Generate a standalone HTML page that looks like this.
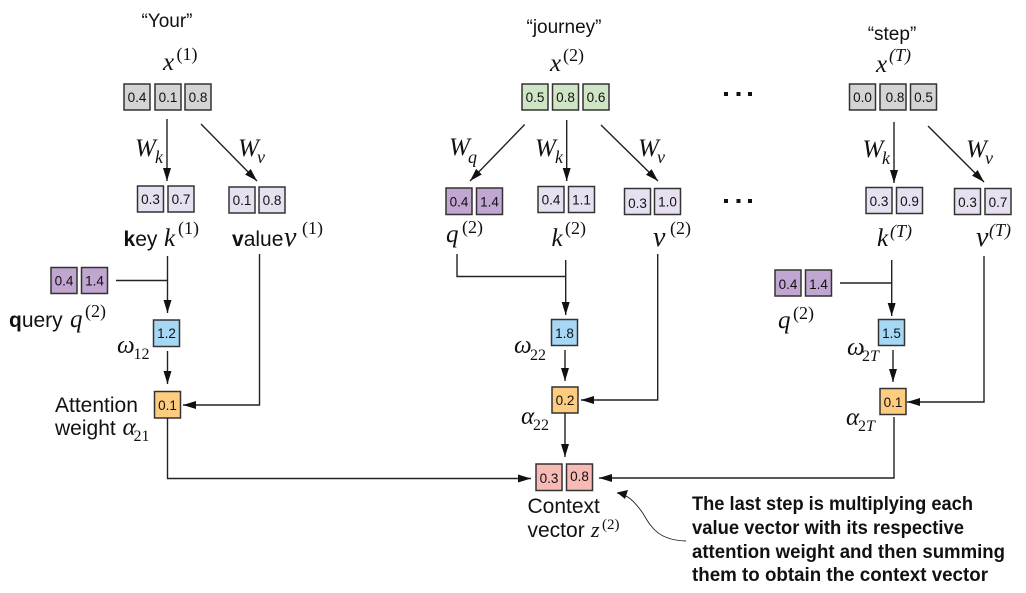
<!DOCTYPE html>
<html><head><meta charset="utf-8"><style>
html,body{margin:0;padding:0;background:#fff}
svg{display:block}
.n{font:13.5px "Liberation Sans",sans-serif;fill:#111;text-anchor:middle}
.s{font:21px "Liberation Sans",sans-serif;fill:#111}
.w{font:19px "Liberation Sans",sans-serif;fill:#111;text-anchor:middle}
.m{font:italic 25px "Liberation Serif",serif;fill:#111}
.u{font:18px "Liberation Serif",serif;fill:#111}
.sb{font:16px "Liberation Serif",serif;fill:#111}
.ui{font:italic 18px "Liberation Serif",serif;fill:#111}
.c{font:bold 19px "Liberation Sans",sans-serif;fill:#111}
rect{stroke:#333;stroke-width:1.5}
.g{fill:#d4d4d4}.gr{fill:#cfe5c5}.l{fill:#e6e0f0}.p{fill:#c0a6d0}.b{fill:#a6d8f5}.o{fill:#fdcc7e}.r{fill:#f8bab5}
line,polyline,path.a{stroke:#222;stroke-width:1.4;fill:none}
.d{fill:#111;stroke:none}
</style></head><body>
<svg width="1026" height="593" viewBox="0 0 1026 593" xmlns="http://www.w3.org/2000/svg">
<defs><marker id="h" markerUnits="userSpaceOnUse" markerWidth="14" markerHeight="10" refX="13" refY="4" orient="auto"><path d="M0 0L13 4L0 8Z" fill="#111"/></marker></defs>

<!-- column 1 -->
<text class="w" x="167" y="27">“Your”</text>
<text class="m" x="163" y="70">x</text><text class="u" x="176.5" y="60">(1)</text>
<rect class="g" x="124" y="84" width="26" height="26"/><text class="n" x="137" y="102">0.4</text>
<rect class="g" x="155" y="84" width="26" height="26"/><text class="n" x="168" y="102">0.1</text>
<rect class="g" x="185" y="84" width="26" height="26"/><text class="n" x="198" y="102">0.8</text>
<line x1="167" y1="119" x2="167" y2="181" marker-end="url(#h)"/>
<line x1="201" y1="124" x2="257" y2="181" marker-end="url(#h)"/>
<text class="m" x="135" y="156">W</text><text class="ui" x="155" y="163">k</text>
<text class="m" x="238" y="156">W</text><text class="ui" x="257" y="163">v</text>
<rect class="l" x="137.5" y="186" width="26" height="26"/><text class="n" x="150.5" y="204">0.3</text>
<rect class="l" x="168" y="186" width="26" height="26"/><text class="n" x="181" y="204">0.7</text>
<rect class="l" x="229" y="187" width="26" height="26"/><text class="n" x="242" y="205">0.1</text>
<rect class="l" x="259" y="187" width="26" height="26"/><text class="n" x="272" y="205">0.8</text>
<text class="s" x="123.5" y="246"><tspan font-weight="bold">k</tspan>ey</text><text class="m" x="164" y="246">k</text><text class="u" x="178" y="234">(1)</text>
<text class="s" x="232" y="246"><tspan font-weight="bold">v</tspan>alue</text><text class="m" x="284" y="246" style="font-size:28px">v</text><text class="u" x="302" y="234">(1)</text>
<rect class="p" x="51" y="267.5" width="26" height="26"/><text class="n" x="64" y="285.5">0.4</text>
<rect class="p" x="81.5" y="267.5" width="26" height="26"/><text class="n" x="94.5" y="285.5">1.4</text>
<line x1="116" y1="280.5" x2="167.5" y2="280.5"/>
<line x1="167.5" y1="256" x2="167.5" y2="313" marker-end="url(#h)"/>
<text class="s" x="9" y="327"><tspan font-weight="bold">q</tspan>uery</text><text class="m" x="70" y="327">q</text><text class="u" x="85" y="317">(2)</text>
<rect class="b" x="153.5" y="320" width="26" height="26.5"/><text class="n" x="166.5" y="338">1.2</text>
<text class="m" x="117" y="353">ω</text><text class="sb" x="133.5" y="359">12</text>
<line x1="167.5" y1="351" x2="167.5" y2="384" marker-end="url(#h)"/>
<rect class="o" x="154.5" y="391.5" width="26" height="26.5"/><text class="n" x="167.5" y="410">0.1</text>
<text class="s" x="55" y="412">Attention</text>
<text class="s" x="55" y="435">weight</text><text class="m" x="122.5" y="435">α</text><text class="sb" x="133.5" y="441">21</text>
<polyline points="259.5,254 259.5,405 183,405" marker-end="url(#h)"/>
<polyline points="167.5,418 167.5,478.5 531,478.5" marker-end="url(#h)"/>

<!-- column 2 -->
<text class="w" x="564" y="33">“journey”</text>
<text class="m" x="550" y="71">x</text><text class="u" x="563" y="61">(2)</text>
<rect class="gr" x="522" y="84" width="26" height="26"/><text class="n" x="535" y="102">0.5</text>
<rect class="gr" x="552.5" y="84" width="26" height="26"/><text class="n" x="565.5" y="102">0.8</text>
<rect class="gr" x="583" y="84" width="26" height="26"/><text class="n" x="596" y="102">0.6</text>
<line x1="524.7" y1="124.5" x2="470" y2="181" marker-end="url(#h)"/>
<line x1="566.7" y1="120" x2="566.7" y2="181" marker-end="url(#h)"/>
<line x1="601" y1="125" x2="658" y2="181" marker-end="url(#h)"/>
<text class="m" x="449" y="155">W</text><text class="ui" x="468" y="163">q</text>
<text class="m" x="535" y="156">W</text><text class="ui" x="555" y="163">k</text>
<text class="m" x="638" y="156">W</text><text class="ui" x="657" y="163">v</text>
<rect class="p" x="446" y="188" width="26" height="26.5"/><text class="n" x="459" y="206.5">0.4</text>
<rect class="p" x="476.5" y="188" width="26" height="26.5"/><text class="n" x="489.5" y="206.5">1.4</text>
<rect class="l" x="538" y="186.5" width="26" height="26"/><text class="n" x="551" y="204.5">0.4</text>
<rect class="l" x="568.5" y="186.5" width="26" height="26"/><text class="n" x="581.5" y="204.5">1.1</text>
<rect class="l" x="624.5" y="188.5" width="26" height="26"/><text class="n" x="637.5" y="208">0.3</text>
<rect class="l" x="654.5" y="188.5" width="26" height="26"/><text class="n" x="667.5" y="206.5">1.0</text>
<text class="m" x="446" y="242">q</text><text class="u" x="462" y="233">(2)</text>
<text class="m" x="551.5" y="246">k</text><text class="u" x="565" y="234">(2)</text>
<text class="m" x="653" y="246" style="font-size:28px">v</text><text class="u" x="670" y="234">(2)</text>
<polyline points="457,254 457,276.5 566,276.5"/>
<line x1="565.7" y1="260" x2="565.7" y2="315" marker-end="url(#h)"/>
<polyline points="657.7,254 657.7,400 581,400" marker-end="url(#h)"/>
<rect class="b" x="551.5" y="319.5" width="26" height="26"/><text class="n" x="564.5" y="338">1.8</text>
<text class="m" x="514" y="353">ω</text><text class="sb" x="530" y="360">22</text>
<line x1="565" y1="350" x2="565" y2="381" marker-end="url(#h)"/>
<rect class="o" x="552" y="387" width="26" height="26"/><text class="n" x="565" y="405">0.2</text>
<text class="m" x="521" y="424">α</text><text class="sb" x="533" y="430">22</text>
<line x1="565" y1="413" x2="565" y2="457" marker-end="url(#h)"/>
<rect class="r" x="536" y="464" width="26" height="26.5"/><text class="n" x="549" y="483">0.3</text>
<rect class="r" x="566.5" y="464" width="26" height="26.5"/><text class="n" x="579.5" y="481">0.8</text>
<text class="s" x="527.5" y="513">Context</text>
<text class="s" x="527.5" y="537">vector</text><text class="m" x="591" y="537" style="font-size:22px">z</text><text class="u" x="602" y="529" style="font-size:15px">(2)</text>

<!-- dots -->
<rect class="d" x="724" y="92" width="4" height="4"/><rect class="d" x="736.5" y="92" width="4" height="4"/><rect class="d" x="748" y="92" width="4" height="4"/>
<rect class="d" x="724" y="199" width="4" height="4"/><rect class="d" x="736.5" y="199" width="4" height="4"/><rect class="d" x="748" y="199" width="4" height="4"/>

<!-- column 3 -->
<text class="w" x="892" y="40">“step”</text>
<text class="m" x="876" y="72">x</text><text class="ui" x="889" y="61">(T)</text>
<rect class="g" x="849.5" y="84" width="26" height="26"/><text class="n" x="862.5" y="102">0.0</text>
<rect class="g" x="880" y="84" width="26" height="26"/><text class="n" x="895" y="102">0.8</text>
<rect class="g" x="910.5" y="84" width="26" height="26"/><text class="n" x="923.5" y="102">0.5</text>
<line x1="894" y1="122" x2="894" y2="183" marker-end="url(#h)"/>
<line x1="928" y1="126" x2="984" y2="182" marker-end="url(#h)"/>
<text class="m" x="862.5" y="157">W</text><text class="ui" x="882" y="164">k</text>
<text class="m" x="966" y="157">W</text><text class="ui" x="985" y="164">v</text>
<rect class="l" x="866" y="187.5" width="26" height="26"/><text class="n" x="879" y="206">0.3</text>
<rect class="l" x="896.5" y="187.5" width="26" height="26"/><text class="n" x="909.5" y="206">0.9</text>
<rect class="l" x="954.5" y="188.5" width="26" height="26"/><text class="n" x="967.5" y="207">0.3</text>
<rect class="l" x="985" y="188.5" width="26" height="26"/><text class="n" x="998" y="207">0.7</text>
<text class="m" x="877" y="246">k</text><text class="ui" x="890" y="237">(T)</text>
<text class="m" x="976" y="246" style="font-size:28px">v</text><text class="ui" x="989" y="236">(T)</text>
<rect class="p" x="775" y="270" width="26" height="26"/><text class="n" x="788" y="289">0.4</text>
<rect class="p" x="805.5" y="270" width="26" height="26"/><text class="n" x="818.5" y="289">1.4</text>
<line x1="840" y1="283" x2="891.7" y2="283"/>
<line x1="891.7" y1="260" x2="891.7" y2="316" marker-end="url(#h)"/>
<text class="m" x="778" y="328">q</text><text class="u" x="793" y="319">(2)</text>
<polyline points="984,256 984,402 907,402" marker-end="url(#h)"/>
<rect class="b" x="878.5" y="319.5" width="26" height="26"/><text class="n" x="891.5" y="338">1.5</text>
<text class="m" x="847" y="355">ω</text><text class="sb" x="862" y="361">2<tspan font-style="italic">T</tspan></text>
<line x1="893" y1="350" x2="893" y2="382" marker-end="url(#h)"/>
<rect class="o" x="880" y="388.5" width="26" height="26"/><text class="n" x="893" y="407">0.1</text>
<text class="m" x="846" y="425">α</text><text class="sb" x="858" y="431">2<tspan font-style="italic">T</tspan></text>
<polyline points="894,417 894,478 599,478" marker-end="url(#h)"/>

<!-- callout -->
<path class="a" d="M686 541C655 540 650 524 642 512C634 501 628 495 617 493" style="stroke-width:.9"/>
<path d="M617 492.5L628 490L625 499Z" fill="#111"/>
<text class="c" x="692" y="510" textLength="281" lengthAdjust="spacingAndGlyphs">The last step is multiplying each</text>
<text class="c" x="692" y="534" textLength="272" lengthAdjust="spacingAndGlyphs">value vector with its respective</text>
<text class="c" x="692" y="558" textLength="313" lengthAdjust="spacingAndGlyphs">attention weight and then summing</text>
<text class="c" x="692" y="581" textLength="296" lengthAdjust="spacingAndGlyphs">them to obtain the context vector</text>
</svg>
</body></html>
